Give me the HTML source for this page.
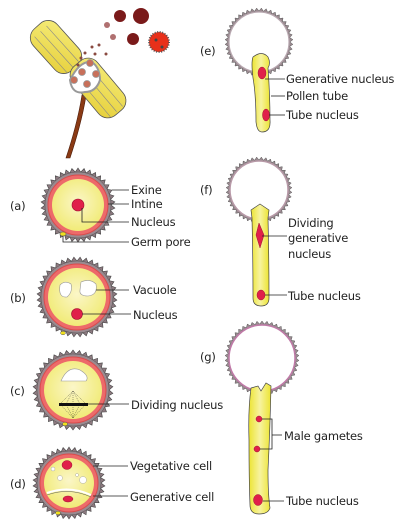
<!DOCTYPE html>
<html><head><meta charset="utf-8"><style>
html,body{margin:0;padding:0;background:#fff;}
svg{display:block;}
text{font-family:"DejaVu Sans","Liberation Sans",sans-serif;font-size:11.5px;letter-spacing:-0.2px;fill:#222;}
</style></head><body>
<svg id="s" width="402" height="522" viewBox="0 0 402 522">
<defs>
<radialGradient id="yg" cx="50%" cy="45%" r="60%"><stop offset="0" stop-color="#fbf6c8"/><stop offset="1" stop-color="#f0ea70"/></radialGradient>
<linearGradient id="tg" x1="0" x2="1"><stop offset="0" stop-color="#ece432"/><stop offset="0.5" stop-color="#f7f3a0"/><stop offset="1" stop-color="#ece432"/></linearGradient>
<linearGradient id="ag" x1="0" y1="0" x2="1" y2="1"><stop offset="0" stop-color="#f5ec7a"/><stop offset="1" stop-color="#e6cf3a"/></linearGradient>
</defs>

<g>
<path d="M82,95 C78,120 72,140 66,158 L70,158 C76,140 82,120 86,96 Z" fill="#8a3a14" stroke="#4a1a08" stroke-width="0.6"/>
<g transform="rotate(48 56 47)">
<rect x="28" y="31" width="56" height="32" rx="12" fill="url(#ag)" stroke="#555" stroke-width="0.8"/>
<line x1="34" y1="40" x2="82" y2="40" stroke="#888" stroke-width="0.6"/>
<line x1="34" y1="48" x2="82" y2="48" stroke="#888" stroke-width="0.6"/>
<line x1="34" y1="56" x2="82" y2="56" stroke="#888" stroke-width="0.6"/>
</g>
<g transform="rotate(50 98 88)">
<rect x="66" y="72" width="64" height="32" rx="12" fill="url(#ag)" stroke="#555" stroke-width="0.8"/>
<line x1="76" y1="81" x2="128" y2="81" stroke="#888" stroke-width="0.6"/>
<line x1="76" y1="89" x2="128" y2="89" stroke="#888" stroke-width="0.6"/>
<line x1="76" y1="97" x2="128" y2="97" stroke="#888" stroke-width="0.6"/>
</g>
<path d="M70,80 Q80,60 92,62 Q100,68 100,80 Q96,92 85,92 Q72,95 70,80 Z" fill="#fff" stroke="#999" stroke-width="2"/>
<g fill="#c8705a" stroke="#999" stroke-width="0.8">
<circle cx="90" cy="63" r="3.5"/><circle cx="82" cy="72" r="3.5"/><circle cx="96" cy="74" r="3.5"/><circle cx="74" cy="80" r="3.5"/><circle cx="87" cy="84" r="3.5"/>
</g>
<g fill="#8a4a40">
<circle cx="81" cy="58" r="1.5"/><circle cx="85" cy="53" r="1.5"/><circle cx="92" cy="47" r="1.5"/><circle cx="99" cy="45" r="1.5"/><circle cx="106" cy="54" r="1.5"/><circle cx="95" cy="54" r="1.5"/><circle cx="78" cy="65" r="1.5"/>
<circle cx="107" cy="25" r="3" fill="#b07070"/><circle cx="113" cy="37" r="3" fill="#b07070"/>
</g>
<g fill="#7a1a1a">
<circle cx="120" cy="16" r="6"/><circle cx="141" cy="16" r="8"/><circle cx="133" cy="39" r="6"/>
</g>
<circle cx="159" cy="42" r="10" fill="#e8301a" stroke="#555" stroke-width="2" stroke-dasharray="1 1.5"/>
<circle cx="156" cy="40" r="1.5" fill="#444"/><circle cx="162" cy="47" r="1.5" fill="#444"/>
</g>

<g>
<path class="spk" data-c="78,205,33,37,38" fill="#8d7a80" stroke="#444" stroke-width="0.6"/>
<circle cx="78" cy="205" r="33" fill="#9a8a90" stroke="#555" stroke-width="0.5"/>
<circle cx="78" cy="205" r="30" fill="#ed6a6a" stroke="#d94c4c"/>
<circle cx="78" cy="205" r="26" fill="url(#yg)"/>
<circle cx="78" cy="205" r="6" fill="#e0204a" stroke="#a01030" stroke-width="0.6"/>
<ellipse cx="63" cy="234" rx="3" ry="2" fill="#f0e020" stroke="#555" stroke-width="0.5"/>
</g>
<text x="10" y="210">(a)</text>
<g stroke="#222" stroke-width="0.8" fill="none">
<path d="M112,190 H129"/><path d="M108,204 H129"/><path d="M82,208 V222 H129"/><path d="M63,236 V242 H129"/>
</g>
<text x="131" y="194">Exine</text>
<text x="131" y="208">Intine</text>
<text x="131" y="226">Nucleus</text>
<text x="131" y="246">Germ pore</text>

<g>
<path class="spk" data-c="77,297,36,40,40" fill="#8d7a80" stroke="#444" stroke-width="0.6"/>
<circle cx="77" cy="297" r="36" fill="#9a8a90" stroke="#555" stroke-width="0.5"/>
<circle cx="77" cy="297" r="33" fill="#ed6a6a" stroke="#d94c4c"/>
<circle cx="77" cy="297" r="29" fill="url(#yg)"/>
<path d="M60,285 Q65,280 71,284 Q73,292 67,297 Q58,298 60,285 Z" fill="#fff" stroke="#999" stroke-width="0.6"/>
<path d="M81,282 Q90,278 96,284 Q98,295 88,296 Q79,296 80,290 Z" fill="#fff" stroke="#999" stroke-width="0.6"/>
<circle cx="77" cy="314" r="5.5" fill="#e0204a" stroke="#a01030" stroke-width="0.6"/>
<ellipse cx="63" cy="333" rx="2.5" ry="1.8" fill="#f0e020" stroke="#555" stroke-width="0.5"/>
</g>
<text x="10" y="302">(b)</text>
<g stroke="#222" stroke-width="0.8"><path d="M96,290 H129"/><path d="M82,314 H131"/></g>
<text x="133" y="294">Vacuole</text>
<text x="133" y="319">Nucleus</text>

<g>
<path class="spk" data-c="73,390,36,40,38" fill="#8d7a80" stroke="#444" stroke-width="0.6"/>
<circle cx="73" cy="390" r="36" fill="#9a8a90" stroke="#555" stroke-width="0.5"/>
<circle cx="73" cy="390" r="33" fill="#ed6a6a" stroke="#d94c4c"/>
<circle cx="73" cy="390" r="29" fill="url(#yg)"/>
<path d="M61,381 Q68,365 80,370 Q90,376 86,381 Z" fill="#fff" stroke="#999" stroke-width="0.6"/>
<g stroke="#222" stroke-width="0.4" stroke-dasharray="1 1" fill="none">
<path d="M73,391 L60,404 L73,418"/><path d="M73,391 L86,404 L73,418"/><path d="M73,391 L66,404 L73,418"/><path d="M73,391 L80,404 L73,418"/><path d="M73,391 V418"/>
</g>
<rect x="59" y="403" width="29" height="3" fill="#111"/>
<ellipse cx="65" cy="424" rx="2.5" ry="1.8" fill="#f0e020" stroke="#555" stroke-width="0.5"/>
</g>
<text x="10" y="395">(c)</text>
<path d="M88,404 H129" stroke="#222" stroke-width="0.8"/>
<text x="131" y="409">Dividing nucleus</text>

<g>
<path class="spk" data-c="69,483,32,36,38" fill="#8d7a80" stroke="#444" stroke-width="0.6"/>
<circle cx="69" cy="483" r="32" fill="#9a8a90" stroke="#555" stroke-width="0.5"/>
<circle cx="69" cy="483" r="29" fill="#ed6a6a" stroke="#d94c4c"/>
<circle cx="69" cy="483" r="25" fill="url(#yg)"/>
<ellipse cx="67" cy="465" rx="5" ry="4.5" fill="#e0204a" stroke="#a01030" stroke-width="0.5"/>
<circle cx="53" cy="469" r="2" fill="#fff" stroke="#999" stroke-width="0.4"/>
<circle cx="60" cy="478" r="2.5" fill="#fff" stroke="#999" stroke-width="0.4"/>
<circle cx="83" cy="480" r="3.5" fill="#fff" stroke="#999" stroke-width="0.4"/>
<circle cx="77" cy="475" r="1.5" fill="#fff" stroke="#999" stroke-width="0.4"/>
<path d="M47,493 Q69,485 91,495" stroke="#fff" stroke-width="2" fill="none"/>
<path d="M47,495 Q69,487 91,497" stroke="#555" stroke-width="0.5" fill="none"/>
<ellipse cx="68" cy="499" rx="5" ry="3" fill="#e0204a" stroke="#a01030" stroke-width="0.5"/>
<ellipse cx="58" cy="513" rx="2.5" ry="1.8" fill="#f0e020" stroke="#555" stroke-width="0.5"/>
</g>
<text x="10" y="488">(d)</text>
<g stroke="#222" stroke-width="0.8"><path d="M93,466 H128"/><path d="M93,496 H128"/></g>
<text x="130" y="470">Vegetative cell</text>
<text x="130" y="501">Generative cell</text>

<g>
<path class="spk" data-c="259,42,31,34,44" fill="#9a8a90" stroke="#555" stroke-width="0.5"/>
<circle cx="259" cy="42" r="30" fill="#fff" stroke="#b8a8b0" stroke-width="1.2"/>
<path d="M253,57 Q262,50 268,57 Q271,63 268,68 Q270,95 270,120 Q271,132 262,132 Q257,132 256,122 Q256,95 253,78 Q251,62 253,57 Z" fill="url(#tg)" stroke="#444" stroke-width="0.7"/>
<ellipse cx="262" cy="73" rx="4" ry="6" fill="#e0204a" stroke="#a01030" stroke-width="0.5"/>
<ellipse cx="266" cy="115" rx="3.5" ry="6" fill="#e0204a" stroke="#a01030" stroke-width="0.5"/>
</g>
<text x="200" y="55">(e)</text>
<g stroke="#222" stroke-width="0.8"><path d="M265,79 H285"/><path d="M271,96 H285"/><path d="M269,115 H285"/></g>
<text x="286" y="83">Generative nucleus</text>
<text x="286" y="100">Pollen tube</text>
<text x="286" y="119">Tube nucleus</text>

<g>
<path class="spk" data-c="259,190,30,33,44" fill="#9a8a90" stroke="#555" stroke-width="0.5"/>
<circle cx="259" cy="190" r="29" fill="#fff" stroke="#b89aa8" stroke-width="1.5"/>
<path d="M251,210 L260,204 L269,210 L268,218 Q269,260 269,298 Q269,306 261,306 Q253,306 253,298 Q253,260 252,218 Z" fill="url(#tg)" stroke="#444" stroke-width="0.7"/>
<path d="M259,223 L264,235 L260,248 L256,235 Z" fill="#e0204a" stroke="#a01030" stroke-width="0.5"/>
<ellipse cx="261" cy="295" rx="4" ry="5" fill="#e0204a" stroke="#a01030" stroke-width="0.5"/>
</g>
<text x="200" y="194">(f)</text>
<g stroke="#222" stroke-width="0.8"><path d="M262,236 H287"/><path d="M265,295 H287"/></g>
<text x="288" y="227">Dividing</text>
<text x="288" y="242">generative</text>
<text x="288" y="258">nucleus</text>
<text x="288" y="300">Tube nucleus</text>

<g>
<path class="spk" data-c="262,358,34,37,46" fill="#9a8a90" stroke="#555" stroke-width="0.5"/>
<circle cx="262" cy="358" r="33" fill="#fff" stroke="#c07aa8" stroke-width="1.5"/>
<path d="M251,388 L258,386 L261,391 L266,383 L271,386 Q270,430 268,470 Q268,495 270,508 Q268,514 259,514 Q250,514 250,505 Q249,480 249,440 Q248,410 251,388 Z" fill="url(#tg)" stroke="#444" stroke-width="0.7"/>
<circle cx="259" cy="419" r="3" fill="#e0204a" stroke="#a01030" stroke-width="0.5"/>
<circle cx="257" cy="449" r="3" fill="#e0204a" stroke="#a01030" stroke-width="0.5"/>
<ellipse cx="258" cy="500" rx="4.5" ry="5.5" fill="#e0204a" stroke="#a01030" stroke-width="0.5"/>
</g>
<text x="200" y="361">(g)</text>
<g stroke="#222" stroke-width="0.8" fill="none"><path d="M262,419 H272 V449 H260"/><path d="M272,435 H282"/><path d="M263,501 H284"/></g>
<text x="284" y="440">Male gametes</text>
<text x="286" y="505">Tube nucleus</text>
</svg>
<script>
document.querySelectorAll('.spk').forEach(function(p){
  var c=p.getAttribute('data-c').split(',').map(Number);
  var cx=c[0],cy=c[1],r1=c[2],r2=c[3],n=c[4],d='';
  for(var i=0;i<n;i++){
    var a0=i/n*2*Math.PI,a1=(i+0.5)/n*2*Math.PI;
    d+=(i?'L':'M')+(cx+r1*Math.cos(a0)).toFixed(1)+','+(cy+r1*Math.sin(a0)).toFixed(1);
    d+='L'+(cx+r2*Math.cos(a1)).toFixed(1)+','+(cy+r2*Math.sin(a1)).toFixed(1);
  }
  p.setAttribute('d',d+'Z');
  
  
});
</script>
</body></html>
